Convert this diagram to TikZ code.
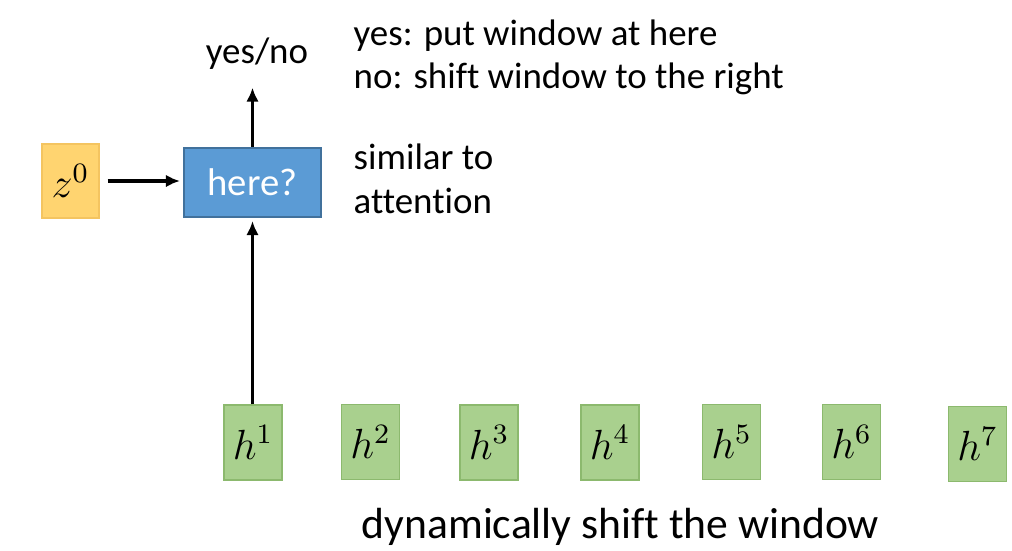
\documentclass[tikz,border=0pt]{standalone}
\usepackage{fontspec}
\setmainfont{Carlito}[Ligatures=NoCommon]
\usepackage{tikz}
\usetikzlibrary{calc}
\usetikzlibrary{arrows.meta}
\usepackage{color}
\definecolor{hgreen}{RGB}{169,208,142}
\definecolor{hgreenline}{RGB}{140,185,110}
\definecolor{zorange}{RGB}{255,212,112}
\definecolor{zorangeline}{RGB}{244,196,96}
\definecolor{qblue}{RGB}{91,155,213}
\definecolor{qblueline}{RGB}{65,113,156}

\begin{document}
\begin{tikzpicture}
    % Setup the styles for the boxes
        \tikzset{h style/.style={rectangle,
                                 minimum width=0.58cm,
                                 minimum height=0.75cm,
                                 inner sep=0pt,
                                 line width=0.4pt,
                                 draw=hgreenline,
                                 fill=hgreen,
                                 font=\fontsize{12}{14}\selectfont},
                 z style/.style={h style,
                                  minimum width=0.57cm,
                                  minimum height=0.74cm,
                                  draw=zorangeline,
                                  fill=zorange},
                 query style/.style={rectangle,
                                     minimum width=1.37cm,
                                     minimum height=0.69cm,
                                     inner sep=0pt,
                                     line width=0.6pt,
                                     draw=qblueline,
                                     fill=qblue,
                                     text=white,
                                     font=\fontsize{11}{13}\selectfont},
                 note style/.style={anchor=base west,
                                    inner sep=0pt,
                                    align=left,
                                    font=\fontsize{10.5}{12.5}\selectfont}}
        \useasboundingbox (0,0) rectangle (10.12,-5.51);
        % Draw the query box and its inputs
        \node[z style] at (0.705,-1.81)     (z0)     {$z^0$};
        \node[query style] at (2.525,-1.825) (query) {here?};
        \node[note style,anchor=base] at (2.57,-0.63) (answer) {yes/no};
        % Draw the encoder states
        \node[h style] at (2.53,-4.425)   (h1) {$h^1$};
        \node[h style] at (3.705,-4.42)   (h2) {$h^2$};
        \node[h style] at (4.89,-4.425)   (h3) {$h^3$};
        \node[h style] at (6.10,-4.425)   (h4) {$h^4$};
        \node[h style] at (7.315,-4.42)   (h5) {$h^5$};
        \node[h style] at (8.515,-4.42)   (h6) {$h^6$};
        \node[h style] at (9.775,-4.44)   (h7) {$h^7$};
        % Notes
        \node[note style] at (3.53,-0.45) (rule yes) {yes: put window at here};
        \node[note style] at (3.53,-0.88) (rule no)  {no: shift window to the right};
        \node[note style] at (3.53,-2.13) (similar)  {similar to\\attention};
        \node[note style,anchor=base,font=\fontsize{12.4}{14}\selectfont]
            at (6.205,-5.38) (caption) {dynamically shift the window};
        % Connect the boxes with arrows
        \draw[line width=0.9pt,
              >={Latex[length=4pt,width=3.6pt]}]
        (z0.east) edge[->, shorten <=0.08cm, shorten >=0.03cm] (z0.east -| query.west)
        (query.north) edge[->, shorten >=0.18cm] (query.north |- answer.south)
        (h1.north -| query.south) edge[->, shorten >=0.03cm] (query.south);
\end{tikzpicture}
\end{document}
